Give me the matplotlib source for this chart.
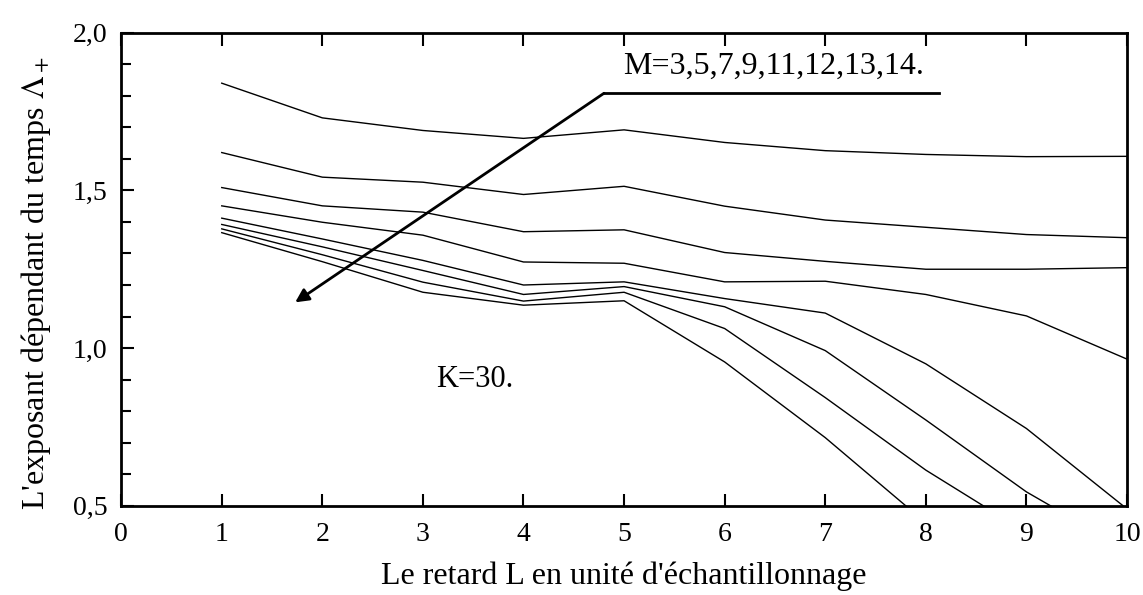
import matplotlib
matplotlib.use("Agg")
import matplotlib.pyplot as plt
from matplotlib.ticker import MultipleLocator, FuncFormatter

plt.rcParams['font.family'] = ['Liberation Serif', 'DejaVu Serif']
plt.rcParams['mathtext.fontset'] = 'stix'

# retard L (x) and exposant values, one list per M
retard = [1, 2, 3, 4, 5, 6, 7, 8, 9, 10]
m3 = [1.84, 1.73, 1.69, 1.665, 1.692, 1.652, 1.626, 1.614, 1.607, 1.608]
m5 = [1.62, 1.542, 1.526, 1.487, 1.513, 1.45, 1.406, 1.383, 1.36, 1.35]
m7 = [1.509, 1.451, 1.431, 1.369, 1.375, 1.303, 1.275, 1.25, 1.25, 1.255]
m9 = [1.451, 1.399, 1.358, 1.273, 1.269, 1.21, 1.212, 1.17, 1.102, 0.965]
m11 = [1.412, 1.346, 1.278, 1.2, 1.21, 1.157, 1.111, 0.95, 0.745, 0.49]
m12 = [1.392, 1.321, 1.246, 1.17, 1.195, 1.131, 0.992, 0.772, 0.544, 0.36]
m13 = [1.378, 1.296, 1.209, 1.149, 1.177, 1.062, 0.843, 0.613, 0.415]
m14 = [1.366, 1.274, 1.177, 1.136, 1.15, 0.956, 0.716, 0.446]
curves = [m3, m5, m7, m9, m11, m12, m13, m14]

m_label = "M=3,5,7,9,11,12,13,14."
k_label = "K=30."

fig = plt.figure(figsize=(11.43, 5.95), dpi=100)
ax = fig.add_axes([0.106, 0.150, 0.880, 0.795])

for c in curves:
    ax.plot(retard[:len(c)], c, color='black', lw=1.0)

# arrow going through the curves + the line under the M text
ax.plot([4.8, 8.13], [1.808, 1.808], color='black', lw=2.0)
ax.annotate('', xy=(1.73, 1.145), xytext=(4.8, 1.808),
            arrowprops=dict(arrowstyle='-|>', color='black', lw=2.0,
                            mutation_scale=20, shrinkA=0, shrinkB=0))

ax.text(4.99, 1.895, m_label, fontsize=23, va='center', ha='left')
ax.text(3.13, 0.90, k_label, fontsize=22, va='center', ha='left')

ax.set_xlim(0, 10)
ax.set_ylim(0.5, 2.0)
ax.xaxis.set_major_locator(MultipleLocator(1))
ax.yaxis.set_major_locator(MultipleLocator(0.5))
ax.yaxis.set_minor_locator(MultipleLocator(0.1))
ax.yaxis.set_major_formatter(FuncFormatter(lambda v, p: ('%.1f' % v).replace('.', ',')))

ax.tick_params(axis='x', which='major', direction='in', top=True, bottom=True,
               length=9, width=1.5, labelsize=20, pad=12)
ax.tick_params(axis='y', which='major', direction='in', left=True, right=False,
               length=9, width=1.5, labelsize=20, pad=10)
ax.tick_params(axis='y', which='minor', direction='in', left=True, right=False,
               length=7, width=1.5)

for s in ax.spines.values():
    s.set_linewidth(2.0)

ax.set_xlabel("Le retard L en unité d'échantillonnage", fontsize=23, labelpad=10)
ax.set_ylabel(r"L'exposant dépendant du temps $\Lambda_+$", fontsize=23)
ax.yaxis.set_label_coords(-0.068, 0.47)

fig.savefig("out.png", dpi=100)
